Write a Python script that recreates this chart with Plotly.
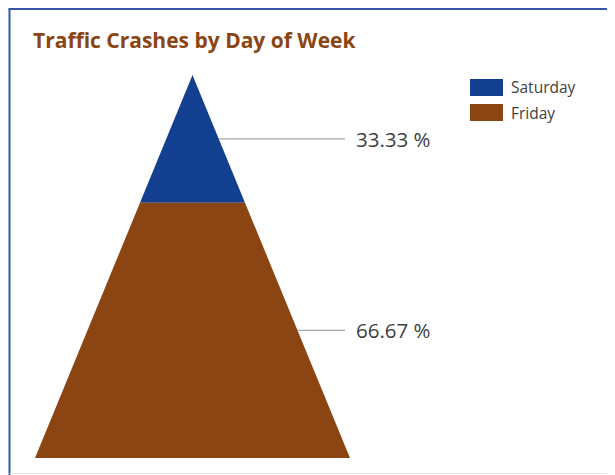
import plotly.graph_objects as go

# ---- data ----
days = ["Saturday", "Friday"]
shares = [33.33, 66.67]
labels = ["33.33 %", "66.67 %"]
colors = ["#123F8F", "#8B4513"]
title = "Traffic Crashes by Day of Week"

# page body margin offsets the figure by 8px; compensate
OFF = 8
W, H = 615 - OFF, 475 - OFF

def px_x(px):
    return (px - OFF) / W

def px_y(py):
    return 1 - (py - OFF) / H

# pixel geometry of the pyramid (layout only, in window pixels)
apex_px, base_px = 75, 458
center_px, half_base_px = 192.5, 157.5

def ux(px):
    return (px - center_px) / half_base_px

fig = go.Figure()
total = sum(shares)
cum = 0.0
for name, s, c, lab in zip(days, shares, colors, labels):
    y0, y1 = cum, cum + s
    w0, w1 = y0 / total, y1 / total
    fig.add_trace(go.Scatter(
        x=[-w0, w0, w1, -w1, -w0], y=[y0, y0, y1, y1, y0],
        fill="toself", fillcolor=c, mode="lines",
        line=dict(width=0, color=c), name=name, showlegend=False,
        hoverinfo="name"))
    ym = (y0 + y1) / 2
    fig.add_trace(go.Scatter(
        x=[ym / total, ux(345)], y=[ym, ym], mode="lines",
        line=dict(color="#A6A6A6", width=1.3), showlegend=False,
        hoverinfo="skip"))
    fig.add_annotation(x=ux(354), y=ym, xref="x", yref="y", text=lab,
                       showarrow=False, xanchor="left", yanchor="middle",
                       font=dict(family="Open Sans", size=20.5, color="#404040"))
    cum = y1

# legend (manual, to match wide swatches)
leg_y = [(79, 96), (104, 121)]
for (t, b), name, c in zip(leg_y, days, colors):
    fig.add_shape(type="rect", xref="paper", yref="paper",
                  x0=px_x(470), x1=px_x(503), y0=px_y(b), y1=px_y(t),
                  fillcolor=c, line=dict(width=0))
    fig.add_annotation(x=px_x(509), y=px_y((t + b) / 2), xref="paper", yref="paper",
                       text=name, showarrow=False, xanchor="left", yanchor="middle",
                       font=dict(family="Open Sans", size=15.5, color="#404040"))

# title
fig.add_annotation(x=px_x(31), y=px_y(40), xref="paper", yref="paper",
                   text="<b>" + title + "</b>", showarrow=False,
                   xanchor="left", yanchor="middle",
                   font=dict(family="Open Sans", size=21, color="#8B4513"))

# frame lines
top_y = px_y(9)
fig.add_shape(type="line", xref="paper", yref="paper",
              x0=px_x(8.5), x1=1, y0=top_y, y1=top_y,
              line=dict(color="#3556A8", width=2))
fig.add_shape(type="line", xref="paper", yref="paper",
              x0=px_x(9.5), x1=px_x(9.5), y0=0, y1=top_y,
              line=dict(color="#3556A8", width=2))
fig.add_shape(type="line", xref="paper", yref="paper",
              x0=px_x(9.5), x1=1, y0=px_y(473.5), y1=px_y(473.5),
              line=dict(color="#E6E6E6", width=1))

fig.update_layout(
    width=W, height=H, margin=dict(l=0, r=0, t=0, b=0),
    paper_bgcolor="white", plot_bgcolor="white", showlegend=False,
    xaxis=dict(range=[ux(OFF), ux(615)], domain=[0, 1], visible=False, fixedrange=True),
    yaxis=dict(range=[total, 0], domain=[px_y(base_px), px_y(apex_px)],
               visible=False, fixedrange=True),
)

fig.write_html("out.html")
